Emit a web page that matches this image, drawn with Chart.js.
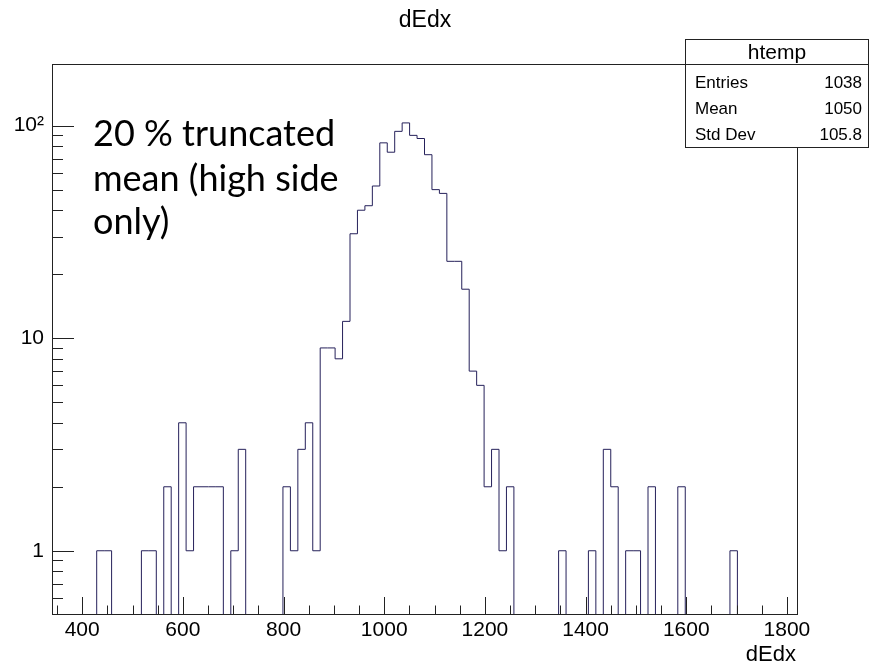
<!DOCTYPE html>
<html>
<head>
<meta charset="utf-8">
<script src="https://cdn.jsdelivr.net/npm/chart.js@4.4.1/dist/chart.umd.min.js"></script>
<style>
body { margin: 0; background: #fff; }
#wrap { width: 869px; height: 666px; position: relative; }
</style>
</head>
<body>
<div id="wrap"><canvas id="histo" width="869" height="666"></canvas></div>
<script>
// dEdx histogram, 100 bins from 340 to 1820
var xMin = 340;
var xMax = 1820;
var nBins = 100;
var counts = [
  0, 0, 0, 0, 0, 0, 0, 1, 1, 0,
  0, 0, 0, 1, 1, 0, 2, 0, 4, 1,
  2, 2, 2, 2, 0, 1, 3, 0, 0, 0,
  0, 0, 2, 1, 3, 4, 1, 9, 9, 8,
  12, 31, 40, 42, 52, 83, 75, 94, 103, 90,
  87, 73, 50, 48, 23, 23, 17, 7, 6, 2,
  3, 1, 2, 0, 0, 0, 0, 0, 0, 1,
  0, 0, 0, 1, 0, 3, 2, 0, 1, 1,
  0, 2, 0, 0, 0, 2, 0, 0, 0, 0,
  0, 0, 1, 0, 0, 0, 0, 0, 0, 0
];
var xTicks = [400, 600, 800, 1000, 1200, 1400, 1600, 1800];
var yTicks = [1, 10, 100];
var yTickLabels = ['1', '10', '10\u00b2'];
var statNames = ['Entries', 'Mean', 'Std Dev'];
var statValues = ['1038', '1050', '105.8'];
var yMin = 0.504;
var yMax = 195;

var binW = (xMax - xMin) / nBins;
var floorVal = 0.05; // empty bins fall below the log axis and get clipped

var pts = [];
for (let i = 0; i < nBins; i++) {
  pts.push({ x: xMin + i * binW, y: counts[i] > 0 ? counts[i] : floorVal });
}
pts.push({ x: xMax, y: counts[nBins - 1] > 0 ? counts[nBins - 1] : floorVal });

var axisColor = '#222';
var helv = 'Liberation Sans, Arial, sans-serif';

var rootFrame = {
  id: 'rootFrame',
  afterDraw: function (chart) {
    var ctx = chart.ctx;
    var a = chart.chartArea;
    var sx = chart.scales.x;
    var sy = chart.scales.y;
    ctx.save();

    // frame
    ctx.strokeStyle = axisColor;
    ctx.lineWidth = 1;
    ctx.strokeRect(Math.round(a.left) + 0.5, Math.round(a.top) + 0.5,
      Math.round(a.right - a.left), Math.round(a.bottom - a.top));

    // x ticks pointing inward
    ctx.beginPath();
    for (let v = 350; v <= xMax; v += 50) {
      var px = Math.round(sx.getPixelForValue(v)) + 0.5;
      var len = (v % 200 === 0) ? 17 : 8.5;
      ctx.moveTo(px, a.bottom);
      ctx.lineTo(px, a.bottom - len);
    }
    // y ticks, log decades with minor marks
    for (let e = -1; e <= 2; e++) {
      for (let d = 1; d <= 9; d++) {
        var val = d * Math.pow(10, e);
        if (val < yMin || val > yMax) continue;
        var py = Math.round(sy.getPixelForValue(val)) + 0.5;
        var l = (d === 1) ? 22 : 11;
        ctx.moveTo(a.left, py);
        ctx.lineTo(a.left + l, py);
      }
    }
    ctx.stroke();

    // title and axis title
    ctx.fillStyle = '#000';
    ctx.font = '23px ' + helv;
    ctx.textAlign = 'center';
    ctx.textBaseline = 'alphabetic';
    ctx.fillText('dEdx', 425, 27);
    ctx.font = '22px ' + helv;
    ctx.textAlign = 'right';
    ctx.fillText('dEdx', 796, 661);

    // annotation
    ctx.font = '36px Lato';
    ctx.textAlign = 'left';
    ctx.fillText('20 % truncated', 93, 146);
    ctx.fillText('mean (high side', 93, 191);
    ctx.fillText('only)', 93, 234);

    // stats box
    ctx.fillStyle = '#fff';
    ctx.fillRect(685, 39, 184, 109);
    ctx.strokeStyle = axisColor;
    ctx.strokeRect(685.5, 39.5, 183, 108);
    ctx.beginPath();
    ctx.moveTo(685, 64.5);
    ctx.lineTo(869, 64.5);
    ctx.stroke();
    ctx.fillStyle = '#000';
    ctx.font = '21px ' + helv;
    ctx.textAlign = 'center';
    ctx.fillText('htemp', 777, 59);
    ctx.font = '17px ' + helv;
    var rows = [88, 114, 140];
    for (let i = 0; i < statNames.length; i++) {
      ctx.textAlign = 'left';
      ctx.fillText(statNames[i], 695, rows[i]);
      ctx.textAlign = 'right';
      ctx.fillText(statValues[i], 862, rows[i]);
    }
    ctx.restore();
  }
};

var ctx = document.getElementById('histo').getContext('2d');
var histo = new Chart(ctx, {
  type: 'line',
  data: {
    datasets: [{
      data: pts,
      stepped: 'after',
      borderColor: '#25205a',
      borderWidth: 1,
      pointRadius: 0,
      fill: false,
      tension: 0
    }]
  },
  options: {
    responsive: false,
    animation: false,
    parsing: false,
    layout: { padding: { left: 0, top: 64, right: 72, bottom: 0 } },
    plugins: { legend: { display: false }, tooltip: { enabled: false } },
    scales: {
      x: {
        type: 'linear',
        min: xMin,
        max: xMax,
        afterFit: function (s) { s.height = 52; },
        afterBuildTicks: function (s) { s.ticks = xTicks.map(function (v) { return { value: v }; }); },
        grid: { display: false, drawTicks: false },
        border: { display: false },
        ticks: {
          color: '#000',
          font: { family: helv, size: 21 },
          padding: 4,
          maxRotation: 0,
          autoSkip: false,
          callback: function (v) { return String(v); }
        }
      },
      y: {
        type: 'logarithmic',
        min: yMin,
        max: yMax,
        afterFit: function (s) { s.width = 52; },
        afterBuildTicks: function (s) { s.ticks = yTicks.map(function (v) { return { value: v }; }); },
        grid: { display: false, drawTicks: false },
        border: { display: false },
        ticks: {
          color: '#000',
          font: { family: helv, size: 21 },
          padding: 8,
          autoSkip: false,
          callback: function (v, i) { return yTickLabels[i]; }
        }
      }
    }
  },
  plugins: [rootFrame]
});
</script>
</body>
</html>
